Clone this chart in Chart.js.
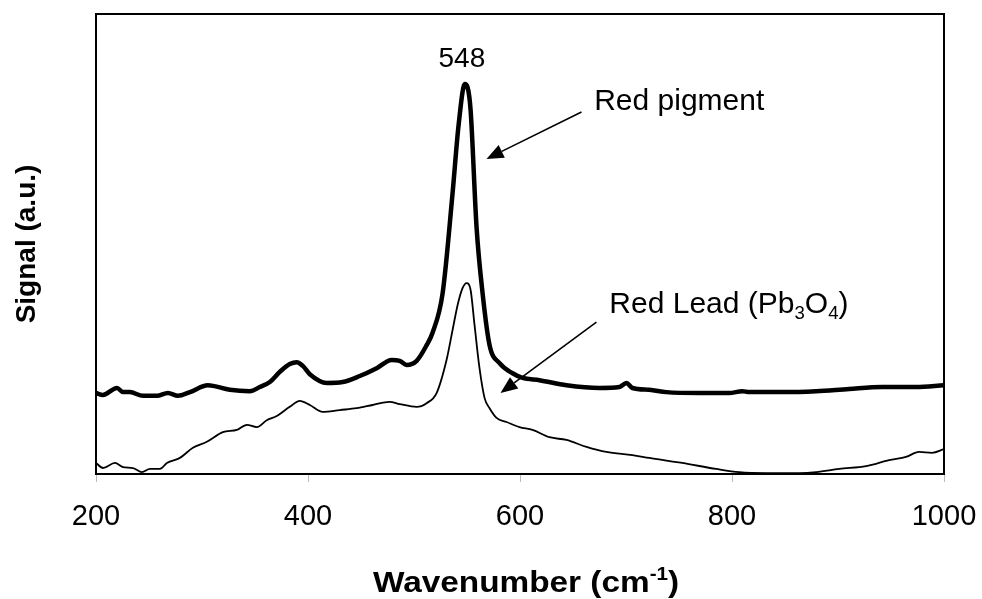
<!DOCTYPE html>
<html>
<head>
<meta charset="utf-8">
<title>Raman spectra</title>
<script src="https://cdn.jsdelivr.net/npm/chart.js@4.4.0/dist/chart.umd.min.js"></script>
<style>
  html, body { margin: 0; padding: 0; background: #fff; }
  #wrap { width: 982px; height: 599px; }
</style>
</head>
<body>
<div id="wrap"><canvas id="ramanChart" width="982" height="599"></canvas></div>
<script>
// spectrum of the red pigment (thick line)
var pigmentWavenumber = [200, 206.6, 219.8, 225.4, 232, 244.3, 257.5, 267.8, 277.3, 288.6, 305.5, 326.3, 345.1, 354.5,
    364, 373.4, 382.8, 389.4, 395.1, 401.7, 417.7, 432.7, 448.8, 464.8, 478.9, 486.5, 493.1, 502.5, 511.9, 517.5,
    527, 536.4, 542.1, 548, 550.5, 553.4, 559, 564.7, 571.3, 580.7, 593, 602.4, 618.4, 643.8, 674.9, 693.8, 700.4,
    706, 722, 738, 769.1, 797.4, 809.7, 816.3, 847.4, 879.4, 910.5, 941.6, 973.6, 1000];
var pigmentSignal = [17.6, 17.2, 18.7, 17.8, 17.8, 17.0, 17.0, 17.6, 17.0, 17.8, 19.3, 18.3, 18.0, 18.9,
    20.0, 22.2, 23.9, 24.3, 23.5, 21.7, 19.8, 20.0, 21.3, 23.0, 24.8, 24.6, 23.7, 24.6, 28.0, 30.7,
    39.3, 61.1, 75.9, 84.8, 84.1, 79.1, 53.7, 39.3, 28.0, 24.1, 21.9, 20.9, 20.4, 19.3, 18.7, 18.9, 19.8,
    18.7, 18.3, 17.8, 17.6, 17.6, 18.0, 17.8, 17.8, 18.0, 18.5, 18.9, 18.9, 19.3];

// reference spectrum of red lead, Pb3O4 (thin line)
var leadWavenumber = [200, 206.6, 217.9, 225.4, 234.9, 243.3, 250.9, 260.3, 266.9, 279.2, 291.4, 304.6, 319.7, 332.9,
    342.3, 351.7, 361.1, 370.6, 382.8, 392.2, 401.7, 413.9, 429.9, 445.9, 461, 477, 486.5, 502.5, 511.9, 521.3,
    530.7, 536.4, 541.1, 545.8, 549.6, 553.4, 557.1, 561.8, 566.6, 571.3, 577.9, 587.3, 599.5, 611.8, 627.8,
    643.8, 662.7, 681.5, 706, 722, 753.1, 785.2, 806.8, 832.3, 863.4, 879.4, 901.1, 926.5, 948.2, 964.2, 976.4,
    988.7, 1000];
var leadSignal = [2.4, 1.3, 2.4, 1.5, 1.3, 0.4, 1.1, 1.1, 2.4, 3.5, 5.7, 7.0, 9.1, 9.6,
    10.7, 10.2, 11.7, 12.6, 14.6, 15.9, 15.0, 13.5, 13.9, 14.3, 15.0, 15.7, 15.2, 14.6, 15.4, 17.6,
    24.8, 31.3, 36.7, 40.4, 41.5, 40.0, 32.4, 23.0, 16.5, 14.3, 12.2, 11.3, 10.2, 9.6, 8.0,
    7.4, 5.9, 4.8, 4.1, 3.5, 2.4, 1.1, 0.4, 0.2, 0.2, 0.4, 1.1, 1.7, 3.0, 3.7, 4.8,
    4.6, 5.4];

var xTicks = [200, 400, 600, 800, 1000];
var peakLabel = 548;

function toPoints(xs, ys) {
    return xs.map(function (x, i) { return { x: x, y: ys[i] }; });
}

// rich text: segments may be superscript or subscript
function drawRich(ctx, segs, x, y, size, weight, align, stretch) {
    var family = '"Liberation Sans", Arial, sans-serif';
    function fontFor(s) {
        var sz = (s.sup || s.sub) ? size * 0.62 : size;
        return weight + ' ' + sz + 'px ' + family;
    }
    var total = 0;
    segs.forEach(function (s) { ctx.font = fontFor(s); total += ctx.measureText(s.t).width; });
    ctx.save();
    ctx.translate(x, y);
    ctx.scale(stretch || 1, 1);
    var cx = align === 'center' ? -total / 2 : 0;
    ctx.textBaseline = 'alphabetic';
    ctx.textAlign = 'left';
    segs.forEach(function (s) {
        ctx.font = fontFor(s);
        var dy = s.sup ? -size * 0.4 : (s.sub ? size * 0.2 : 0);
        ctx.fillText(s.t, cx, dy);
        cx += ctx.measureText(s.t).width;
    });
    ctx.restore();
}

function drawArrow(ctx, x0, y0, x1, y1) {
    var ang = Math.atan2(y1 - y0, x1 - x0);
    var len = 17, half = 7;
    var bx = x1 - len * Math.cos(ang), by = y1 - len * Math.sin(ang);
    ctx.beginPath();
    ctx.moveTo(x0, y0);
    ctx.lineTo(bx, by);
    ctx.lineWidth = 1.6;
    ctx.stroke();
    ctx.beginPath();
    ctx.moveTo(x1, y1);
    ctx.lineTo(bx + half * Math.sin(ang), by - half * Math.cos(ang));
    ctx.lineTo(bx - half * Math.sin(ang), by + half * Math.cos(ang));
    ctx.closePath();
    ctx.fill();
}

var decorations = {
    id: 'decorations',
    afterDraw: function (chart) {
        var ctx = chart.ctx, a = chart.chartArea;
        var sx = chart.scales.x, sy = chart.scales.y;
        ctx.save();
        ctx.strokeStyle = '#000';
        ctx.fillStyle = '#000';

        // plot frame
        ctx.lineWidth = 2;
        ctx.strokeRect(a.left, a.top, a.right - a.left, a.bottom - a.top);

        // axis titles
        drawRich(ctx, [{ t: 'Wavenumber (cm' }, { t: '-1', sup: true }, { t: ')' }],
            (a.left + a.right) / 2 + 6, 592, 29, 'bold', 'center', 1.15);
        ctx.save();
        ctx.translate(35, (a.top + a.bottom) / 2);
        ctx.rotate(-Math.PI / 2);
        drawRich(ctx, [{ t: 'Signal (a.u.)' }], 0, 0, 28, 'bold', 'center', 1);
        ctx.restore();

        // peak position
        drawRich(ctx, [{ t: String(peakLabel) }], sx.getPixelForValue(peakLabel) - 3, sy.getPixelForValue(88.5), 28, 'normal', 'center', 1);

        // labels with arrows
        drawRich(ctx, [{ t: 'Red pigment' }], sx.getPixelForValue(670), sy.getPixelForValue(79.1), 30, 'normal', 'left', 1);
        drawArrow(ctx, sx.getPixelForValue(658), sy.getPixelForValue(78.7), sx.getPixelForValue(568.4), sy.getPixelForValue(68.5));

        drawRich(ctx, [{ t: 'Red Lead (Pb' }, { t: '3', sub: true }, { t: 'O' }, { t: '4', sub: true }, { t: ')' }],
            sx.getPixelForValue(684.3), sy.getPixelForValue(35), 30, 'normal', 'left', 1);
        drawArrow(ctx, sx.getPixelForValue(672.1), sy.getPixelForValue(33), sx.getPixelForValue(581.6), sy.getPixelForValue(17.6));

        ctx.restore();
    }
};

var ctx = document.getElementById('ramanChart').getContext('2d');
var myChart = new Chart(ctx, {
    type: 'line',
    data: {
        datasets: [
            {
                label: 'Red pigment',
                data: toPoints(pigmentWavenumber, pigmentSignal),
                borderColor: '#000',
                borderWidth: 4.5,
                pointRadius: 0,
                cubicInterpolationMode: 'monotone',
                fill: false
            },
            {
                label: 'Red Lead (Pb3O4)',
                data: toPoints(leadWavenumber, leadSignal),
                borderColor: '#000',
                borderWidth: 1.8,
                pointRadius: 0,
                cubicInterpolationMode: 'monotone',
                fill: false
            }
        ]
    },
    options: {
        responsive: false,
        animation: false,
        layout: { padding: { top: 14, right: 38, left: 0, bottom: 0 } },
        plugins: {
            legend: { display: false },
            tooltip: { enabled: false }
        },
        scales: {
            x: {
                type: 'linear',
                min: 200,
                max: 1000,
                afterBuildTicks: function (scale) {
                    scale.ticks = xTicks.map(function (v) { return { value: v }; });
                },
                afterFit: function (scale) {
                    scale.height = 125;
                    // keep the end labels from shrinking the plot area
                    scale.paddingLeft = 0;
                    scale.paddingRight = 0;
                },
                ticks: {
                    color: '#000',
                    padding: 18,
                    maxRotation: 0,
                    callback: function (value) { return String(value); },
                    font: { family: '"Liberation Sans", Arial, sans-serif', size: 29 }
                },
                grid: {
                    drawOnChartArea: false,
                    drawTicks: true,
                    tickLength: 8,
                    color: '#bbb'
                },
                border: { display: false }
            },
            y: {
                min: 0,
                max: 100,
                afterFit: function (scale) { scale.width = 96; },
                ticks: { display: false },
                grid: { display: false },
                border: { display: false }
            }
        }
    },
    plugins: [decorations]
});
</script>
</body>
</html>
